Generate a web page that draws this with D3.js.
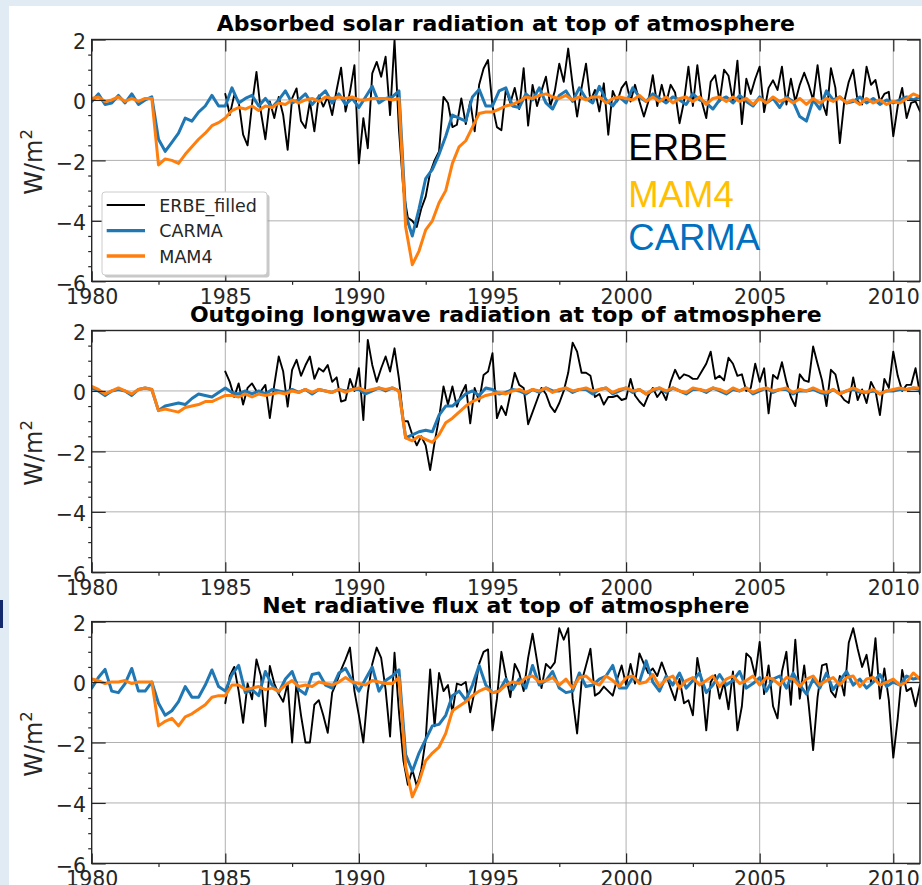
<!DOCTYPE html>
<html>
<head>
<meta charset="utf-8">
<script src="https://cdn.jsdelivr.net/npm/d3@7"></script>
<style>
  html, body { margin: 0; padding: 0; background: #fff; }
  svg { display: block; }
</style>
</head>
<body>
<svg id="fig" width="922" height="885"></svg>
<script>
// ---------------------------------------------------------------
// TOA radiation anomalies (W/m^2), ERBE observations vs. two models
// ERBE_filled: 2-month samples from 1985.0 ; models: quarterly from 1980.0
// ---------------------------------------------------------------
const erbeStart = 1985, erbeStep = 1 / 6;
const modelStart = 1980, modelStep = 0.25;

const panelTitles = [
  "Absorbed solar radiation at top of atmosphere",
  "Outgoing longwave radiation at top of atmosphere",
  "Net radiative flux at top of atmosphere"
];
const seriesNames = ["ERBE_filled", "CARMA", "MAM4"];
const yearTicks = [1980, 1985, 1990, 1995, 2000, 2005, 2010];
const yearMinorTicks = [1982.5, 1987.5, 1992.5, 1997.5, 2002.5, 2007.5];
const valueTicks = [2, 0, -2, -4, -6];
const valueMinorTicks = [1.5, 1, 0.5, -0.5, -1, -1.5, -2.5, -3, -3.5, -4.5, -5, -5.5];
const sideLabels = ["ERBE", "MAM4", "CARMA"];

// Absorbed solar radiation
const erbeSW = [
  0.2, -0.5, 0.16, -0.05, -1.15, -1.5,
  -0.15, 0.93, -0.4, -1.3, -0.05, -0.6,
  0.1, -0.5, -1.65, 0.05, 0.38, -0.7,
  -0.93, -0.05, -1.04, 0.15, -0.22, 0.1,
  -0.5, 0.33, 1.07, -0.38, 0.27, 1.15,
  -2.1, -0.6, -1.6, 0.88, 1.26, 0.77,
  1.43, -0.5, 1.98, -1.0, -3.0, -3.9,
  -4.0, -4.2, -3.6, -3.2, -2.4, -2.0,
  -1.7, 0.1, -0.1, -0.9, -0.82, 0.05,
  -0.8, -0.05, -1.04, 0.5, 1.04, 1.32,
  -0.2, -0.9, -1.0, 0.35, -0.1, 0.4,
  -0.3, 1.05, -0.85, 0.5, -0.2, 0.3,
  0.77, -0.2, 0.3, 1.2, 0.6, 1.7,
  0.5, -0.55, 0.4, 1.2, -0.05, 0.33,
  -0.38, 0.55, -1.15, 0.3, -0.05, 0.4,
  0.6, -0.05, 0.5, -0.05, -0.55, -0.05,
  0.82, -0.2, 0.5, -0.1, 0.5, 0.25,
  -0.77, -0.05, 1.1, -0.2, 1.15, -0.05,
  -0.6, 0.6, 0.82, -0.05, 1.0, 0.8,
  -0.05, 1.3, -0.8, 0.7, 0.2, 0.7,
  1.1, -0.4, 0.4, 0.65, 0.33, 1.1,
  -0.15, 0.7, -0.05, 0.5, 0.9, 0.5,
  0.0, 1.15, -0.05, -0.5, 1.05, 0.4,
  -1.43, -0.05, 0.6, 1.0, -0.05, -0.15,
  1.1, 0.5, 0.66, -0.05, 0.2, 0.27,
  -1.2, -0.2, 0.4, -0.6, -0.1, -0.05,
  -0.38
];
const carmaSW = [
  -0.05, 0.2, -0.15, -0.1, 0.15, -0.1, 0.2, -0.15, 0.0, 0.1,
  -1.3, -1.7, -1.4, -1.1, -0.6, -0.7, -0.4, -0.2, 0.15, -0.2,
  -0.2, 0.4, -0.1, 0.05, 0.15, -0.2, 0.05, -0.25, 0.0, 0.3,
  -0.1, 0.0, 0.2, -0.15, 0.1, 0.3, -0.1, 0.2, -0.15, 0.05,
  -0.25, 0.1, 0.45, -0.1, 0.05, 0.1, 0.3, -3.8, -4.5, -3.6,
  -2.6, -2.3, -1.8, -1.2, -0.5, -0.6, -0.7, 0.1, 0.35, -0.2,
  -0.2, 0.3, 0.4, -0.2, -0.25, 0.2, 0.0, 0.4, -0.1, -0.3,
  0.15, 0.3, -0.05, 0.4, 0.05, -0.1, 0.45, 0.0, -0.2, 0.1,
  -0.1, 0.4, 0.1, -0.05, 0.2, 0.05, -0.1, 0.1, 0.0, -0.15,
  0.2, 0.0, -0.1, -0.3, 0.0, 0.1, -0.1, 0.15, -0.05, -0.2,
  0.1, -0.1, 0.05, -0.25, 0.1, -0.05, -0.55, -0.7, 0.0, -0.3,
  0.3, 0.0, 0.1, -0.1, -0.05, 0.1, -0.1, 0.05, -0.15, 0.0,
  -0.1, 0.0, 0.1, 0.0, 0.1
];
const mam4SW = [
  0.05, 0.1, -0.05, 0.0, 0.1, -0.05, 0.05, -0.05, 0.05, 0.05,
  -2.15, -1.95, -2.0, -2.1, -1.8, -1.55, -1.3, -1.1, -0.85, -0.75,
  -0.6, -0.35, -0.25, -0.3, -0.2, -0.35, -0.2, -0.25, -0.1, -0.15,
  0.0, -0.1, 0.0, 0.05, -0.05, 0.1, 0.05, 0.1, 0.05, 0.1,
  0.0, 0.0, 0.05, 0.05, 0.05, 0.0, 0.05, -4.2, -5.45, -5.0,
  -4.3, -4.0, -3.4, -3.0, -2.1, -1.55, -1.35, -0.9, -0.45, -0.4,
  -0.4, -0.3, -0.2, -0.15, -0.05, 0.1, 0.05, 0.15, 0.2, 0.1,
  0.05, 0.15, 0.0, 0.1, 0.0, 0.1, 0.1, -0.1, 0.05, 0.1,
  0.05, 0.0, 0.15, -0.05, 0.1, -0.05, 0.1, -0.1, 0.05, 0.1,
  -0.05, 0.1, -0.15, 0.05, 0.1, -0.05, 0.1, -0.05, 0.05, -0.15,
  0.05, -0.1, 0.1, -0.05, 0.05, -0.1, 0.05, -0.15, 0.05, -0.1,
  0.05, -0.05, 0.1, -0.1, 0.0, -0.15, 0.05, -0.1, 0.0, -0.15,
  -0.05, -0.1, 0.05, 0.2, 0.1
];

// Outgoing longwave radiation
const erbeLW = [
  0.64, 0.3, -0.2, 0.25, -0.45, 0.1,
  0.25, 0.0, 0.0, 0.2, -0.9, 0.2,
  1.14, 0.64, -0.52, 0.7, 1.03, 0.5,
  0.85, 1.14, 0.4, 0.75, 0.64, 0.86,
  0.3, 0.45, -0.35, -0.3, 0.4, 0.0,
  0.75, -0.96, 1.69, 0.86, 0.3, 0.75,
  1.14, 0.64, 1.41, 0.4, -1.0, -1.0,
  -1.46, -1.8, -1.5, -1.8, -2.62, -1.7,
  -0.9, 0.15, -0.45, 0.15, -0.52, -0.1,
  0.2, -1.07, 0.1, -0.35, 0.53, 0.64,
  1.25, -0.9, -0.5, -0.8, -0.1, 0.6,
  0.2, 0.1, -1.1, -0.7, -0.3, 0.1,
  -0.1, -0.5, -0.7, -0.4, 0.0, 0.6,
  1.6, 1.3, 0.6, 0.6, 0.5, -0.2,
  -0.1, -0.45, -0.2, -0.2, -0.15, -0.3,
  -0.25, 0.4, -0.15, -0.35, -0.5, -0.15,
  0.1, -0.2, 0.0, -0.3, 0.3, 0.7,
  0.4, 0.55, 0.5, 0.4, 0.4, 0.65,
  0.9, 1.3, 0.4, 0.5, 0.35, 1.1,
  0.9, 0.5, 0.55, 0.0, 0.1, 0.9,
  0.3, 0.75, -0.74, 0.53, 0.4, 0.95,
  0.3, -0.2, -0.5, 0.55, 0.35, 0.3,
  1.47, 0.9, 0.35, -0.5, 0.7, 0.55,
  -0.1, -0.3, -0.4, 0.45, -0.3, 0.05,
  -0.4, 0.3, 0.0, -0.8, 0.4, 0.1,
  1.3, 0.5, 0.0, 0.2, 0.2, 0.75,
  -0.1
];
const carmaLW = [
  0.1, 0.0, -0.15, 0.0, 0.05, 0.0, -0.15, 0.05, 0.1, 0.05,
  -0.65, -0.5, -0.45, -0.4, -0.45, -0.25, -0.1, -0.15, -0.2, -0.05,
  0.1, -0.05, -0.1, 0.0, -0.1, 0.0, -0.1, 0.05, 0.0, -0.05,
  0.05, -0.05, 0.05, -0.1, 0.05, 0.0, -0.05, 0.05, 0.0, 0.05,
  0.05, -0.1, 0.0, 0.1, 0.0, 0.1, 0.0, -1.55, -1.45, -1.35,
  -1.3, -1.35, -0.8, -0.5, -0.5, -0.3, -0.1, 0.0, -0.15, 0.1,
  0.05, -0.1, -0.05, 0.05, 0.0, -0.1, 0.05, -0.05, 0.1, 0.0,
  0.0, 0.1, -0.05, 0.05, 0.05, -0.1, 0.05, 0.1, -0.1, 0.0,
  0.1, -0.05, 0.05, -0.1, 0.0, 0.1, -0.05, 0.1, 0.0, -0.1,
  0.05, 0.05, -0.05, 0.1, 0.0, -0.1, 0.05, 0.0, 0.1, -0.1,
  0.0, 0.1, -0.05, 0.05, 0.05, -0.1, 0.0, 0.0, 0.05, -0.05,
  -0.1, 0.05, -0.1, 0.0, 0.05, -0.05, -0.05, 0.0, -0.1, 0.0,
  0.0, 0.05, 0.05, 0.1, 0.05
];
const mam4LW = [
  0.15, 0.05, -0.1, 0.0, 0.1, 0.0, -0.1, 0.05, 0.1, 0.05,
  -0.65, -0.6, -0.65, -0.7, -0.55, -0.5, -0.45, -0.35, -0.35, -0.25,
  -0.15, -0.15, -0.2, -0.1, -0.2, -0.1, -0.15, -0.1, -0.05, -0.1,
  0.0, -0.05, 0.05, -0.05, 0.05, 0.0, -0.05, 0.05, -0.05, 0.05,
  0.1, 0.0, 0.05, 0.1, 0.05, 0.1, 0.0, -1.55, -1.65, -1.5,
  -1.6, -1.7, -1.45, -1.05, -0.9, -0.7, -0.5, -0.35, -0.25, -0.15,
  -0.1, -0.05, -0.1, 0.0, 0.05, -0.05, 0.05, 0.0, 0.1, -0.05,
  0.05, 0.1, 0.0, 0.05, 0.1, 0.0, 0.05, 0.1, -0.05, 0.05,
  0.1, 0.0, 0.05, -0.1, 0.05, 0.1, 0.0, 0.1, 0.0, -0.05,
  0.1, 0.05, 0.0, 0.1, 0.05, -0.05, 0.1, 0.0, 0.1, -0.05,
  0.05, 0.1, 0.0, 0.05, 0.1, -0.05, 0.05, 0.0, 0.1, 0.0,
  -0.05, 0.05, -0.1, 0.0, 0.1, 0.0, -0.05, 0.05, -0.1, 0.0,
  0.05, 0.1, 0.05, 0.1, 0.1
];

// Net radiative flux
const erbeNet = [
  -0.7, 0.2, 0.5, -0.3, -1.35, -0.05,
  -0.57, 0.75, 0.2, -1.46, 0.53, -0.05,
  -0.4, -0.65, -0.05, -2.0, 0.0, -1.1,
  -2.0, -2.0, -0.75, -0.6, -1.1, -1.68,
  -0.35, 0.0, 0.4, 0.75, 1.14, -0.3,
  -1.1, -2.0, -0.35, 0.6, 1.14, 0.8,
  -0.25, -1.8, 0.97, -1.0, -2.6, -3.4,
  -2.9, -3.45, -2.9, -1.9, 0.42, -1.46,
  0.3, -0.3, -0.1, -1.0, -0.05, -0.1,
  0.0, -1.0, -0.3, 0.6, 1.0, 1.08,
  -1.6, -0.55, 1.0, 0.2, -0.5, 0.6,
  0.3, -0.3, 0.8, 1.6, 0.7, -0.2,
  0.6, 0.45, 0.65, 1.78, 1.4, 1.78,
  -0.55, -1.7, 0.0, 0.55, 1.1, -0.45,
  -0.35, -0.15, -0.3, -0.45, 0.1, 0.55,
  -0.1, 0.6, -0.05, 0.95, 0.6, 0.3,
  0.45, 0.2, 0.65, 0.25, -0.2, -0.6,
  0.1, -0.7, -0.6, -1.1, 0.8, 0.0,
  -1.6, 0.0, 0.23, -0.55, 0.0, -0.9,
  0.35, -1.6, -0.8, 0.95, 0.8, 0.2,
  1.33, -0.4, 0.55, -0.8, -1.2, 0.35,
  1.0, -0.75, 1.4, -0.55, 0.55, -0.75,
  -2.25, -0.5, 0.55, 0.6, -0.3, -0.5,
  0.2, -0.45, 1.3, 1.78, 1.1, 0.5,
  0.9, 0.0, 1.45, -0.55, 0.45, -0.6,
  -2.5, -1.2, 0.4, -0.3, -0.2, -0.8,
  -0.1
];
const carmaNet = [
  -0.2, 0.15, 0.42, -0.3, -0.35, -0.05, 0.45, -0.3, -0.3, 0.0,
  -0.7, -1.1, -0.95, -0.65, -0.15, -0.5, -0.5, -0.1, 0.4, -0.15,
  -0.3, 0.25, 0.55, -0.35, -0.25, -0.45, 0.35, -0.1, -0.35, 0.1,
  0.35, -0.25, -0.4, 0.25, 0.3, -0.1, -0.2, 0.3, 0.45, 0.05,
  -0.3, 0.1, 0.5, -0.3, 0.05, 0.2, 0.4, -2.4, -2.95, -2.35,
  -1.9, -1.45, -1.4, -1.1, -0.45, -0.3, -0.6, -0.1, 0.55, -0.1,
  -0.35, -0.3, 0.1, -0.25, 0.1, -0.2, 0.55, -0.1, 0.05, 0.35,
  -0.2, -0.35, -0.3, 0.3, -0.15, -0.1, 0.1, 0.2, 0.55, -0.2,
  -0.2, 0.15, 0.0, 0.7, 0.0, -0.3, 0.2, -0.1, 0.3, -0.2,
  0.05, 0.3, -0.35, -0.1, 0.25, -0.1, 0.05, 0.35, -0.2, -0.05,
  0.15, -0.3, 0.1, 0.2, -0.2, 0.3, -0.1, -0.4, 0.1, -0.2,
  0.3, -0.25, 0.05, 0.35, -0.1, 0.1, -0.2, 0.0, 0.25, -0.15,
  0.0, -0.1, 0.2, 0.1, 0.15
];
const mam4Net = [
  0.1, 0.05, -0.05, 0.0, 0.0, 0.05, -0.05, 0.0, 0.0, 0.0,
  -1.45, -1.3, -1.2, -1.45, -1.15, -1.05, -0.9, -0.75, -0.5, -0.45,
  -0.45, -0.1, -0.1, -0.25, -0.2, -0.15, -0.25, -0.2, -0.3, -0.1,
  0.05, -0.15, -0.1, -0.15, 0.0, -0.05, -0.1, 0.0, 0.15, 0.0,
  -0.05, -0.1, 0.05, 0.0, -0.05, -0.05, 0.15, -2.8, -3.8, -3.3,
  -2.6, -2.35, -2.15, -1.7, -0.95, -0.8, -0.65, -0.45, -0.3, -0.2,
  -0.35, -0.3, -0.1, 0.0, -0.05, 0.15, 0.2, 0.0, 0.05, 0.15,
  -0.1, 0.1, -0.2, 0.15, 0.2, 0.0, -0.1, 0.2, 0.05, -0.15,
  0.15, 0.2, -0.05, 0.0, 0.25, -0.15, 0.1, 0.2, -0.2, 0.05,
  0.15, -0.1, 0.05, 0.2, -0.15, 0.1, 0.2, -0.05, 0.05, 0.2,
  -0.1, 0.15, 0.1, -0.1, 0.15, 0.1, -0.15, 0.1, 0.2, -0.1,
  0.05, 0.15, -0.1, 0.15, 0.2, -0.15, 0.1, 0.15, -0.1, 0.0,
  0.1, -0.1, 0.0, 0.3, 0.1
];

const panelData = [
  { erbe: erbeSW,  carma: carmaSW,  mam4: mam4SW },
  { erbe: erbeLW,  carma: carmaLW,  mam4: mam4LW },
  { erbe: erbeNet, carma: carmaNet, mam4: mam4Net }
];

// ---------------------------------------------------------------
// layout and styling
// ---------------------------------------------------------------
const W = 922, H = 885;
const plotLeft = 91.7, plotRight = 920;
const panelTops = [39.5, 330.5, 621.6];
const panelHeight = 241.8;
const colors = { erbe: "#000000", carma: "#1f77b4", mam4: "#ff7f0e" };
const widths = { erbe: 1.9, carma: 3, mam4: 3 };
const inkColor = "#262626";
const sans = "'DejaVu Sans', Verdana, sans-serif";

const svg = d3.select("#fig");

// page backdrop
svg.append("rect").attr("width", W).attr("height", H).attr("fill", "#e1ebf3");
svg.append("rect").attr("x", 9).attr("y", 6).attr("width", W - 9).attr("height", H - 6).attr("fill", "#ffffff");
svg.append("rect").attr("x", 0).attr("y", 600).attr("width", 3).attr("height", 28).attr("fill", "#14296b");

const x = d3.scaleLinear().domain([1980, 2011]).range([plotLeft, plotRight]);

function toSeries(values, start, step) {
  return values.map((v, i) => ({ t: start + i * step, v }));
}

function styleAxis(sel, showText) {
  sel.select(".domain").remove();
  sel.selectAll(".tick line").attr("stroke", inkColor).attr("stroke-width", 1.2);
  if (showText) {
    sel.selectAll(".tick text")
      .attr("fill", inkColor)
      .style("font-family", sans)
      .style("font-size", "20.5px");
  } else {
    sel.selectAll(".tick text").remove();
  }
}

panelData.forEach((pd, k) => {
  const top = panelTops[k];
  const bottom = top + panelHeight;
  const y = d3.scaleLinear().domain([-6, 2]).range([bottom, top]);
  const g = svg.append("g").attr("class", "panel");

  const clipId = "clip" + k;
  svg.append("clipPath").attr("id", clipId)
    .append("rect").attr("x", plotLeft).attr("y", top)
    .attr("width", plotRight - plotLeft).attr("height", panelHeight);

  // grid
  const grid = g.append("g").attr("stroke", "#b0b0b0").attr("stroke-width", 1);
  grid.selectAll("line.gx").data(yearTicks.filter(d => d > 1980)).join("line")
    .attr("class", "gx")
    .attr("x1", d => x(d)).attr("x2", d => x(d))
    .attr("y1", top).attr("y2", bottom);
  grid.selectAll("line.gy").data(valueTicks.filter(d => d < 2 && d > -6)).join("line")
    .attr("class", "gy")
    .attr("x1", plotLeft).attr("x2", plotRight)
    .attr("y1", d => y(d)).attr("y2", d => y(d));

  // series
  const line = d3.line().x(d => x(d.t)).y(d => y(d.v)).curve(d3.curveLinear);
  const lines = g.append("g").attr("clip-path", `url(#${clipId})`);
  const series = [
    { key: "erbe",  pts: toSeries(pd.erbe,  erbeStart,  erbeStep) },
    { key: "carma", pts: toSeries(pd.carma, modelStart, modelStep) },
    { key: "mam4",  pts: toSeries(pd.mam4,  modelStart, modelStep) }
  ];
  series.forEach(s => {
    lines.append("path")
      .attr("d", line(s.pts))
      .attr("fill", "none")
      .attr("stroke", colors[s.key])
      .attr("stroke-width", widths[s.key])
      .attr("stroke-linejoin", "round")
      .attr("stroke-linecap", "round");
  });

  // axes: major ticks point inward, minor ticks point outward
  const fmt = d3.format("d");
  g.append("g").attr("transform", `translate(0,${bottom})`)
    .call(d3.axisBottom(x).tickValues(yearTicks).tickFormat(fmt)
      .tickSizeInner(-10).tickSizeOuter(0).tickPadding(7.7))
    .call(s => styleAxis(s, true));
  g.append("g").attr("transform", `translate(0,${bottom})`)
    .call(d3.axisBottom(x).tickValues(yearMinorTicks).tickSizeInner(3.5).tickSizeOuter(0))
    .call(s => styleAxis(s, false));
  g.append("g").attr("transform", `translate(0,${top})`)
    .call(d3.axisTop(x).tickValues(yearTicks).tickSizeInner(-12).tickSizeOuter(0))
    .call(s => styleAxis(s, false));
  g.append("g").attr("transform", `translate(${plotLeft},0)`)
    .call(d3.axisLeft(y).tickValues(valueTicks).tickFormat(fmt)
      .tickSizeInner(-14).tickSizeOuter(0).tickPadding(5.7))
    .call(s => styleAxis(s, true))
    .call(s => s.selectAll(".tick text").attr("dy", "0.43em"));
  g.append("g").attr("transform", `translate(${plotLeft},0)`)
    .call(d3.axisLeft(y).tickValues(valueMinorTicks).tickSizeInner(3.5).tickSizeOuter(0))
    .call(s => styleAxis(s, false));
  g.append("g").attr("transform", `translate(${plotRight},0)`)
    .call(d3.axisRight(y).tickValues(valueTicks).tickSizeInner(-13).tickSizeOuter(0))
    .call(s => styleAxis(s, false));

  // frame
  g.append("rect")
    .attr("x", plotLeft).attr("y", top)
    .attr("width", plotRight - plotLeft).attr("height", panelHeight)
    .attr("fill", "none").attr("stroke", inkColor).attr("stroke-width", 1.4);

  // title
  g.append("text")
    .attr("x", (plotLeft + plotRight) / 2).attr("y", top - 9)
    .attr("text-anchor", "middle")
    .attr("fill", "#000")
    .style("font-family", sans).style("font-weight", "bold").style("font-size", "22px")
    .text(panelTitles[k]);

  // y label
  const yl = g.append("text")
    .attr("transform", `translate(41.5,${(top + bottom) / 2 + 1.5}) rotate(-90)`)
    .attr("text-anchor", "middle")
    .attr("fill", inkColor)
    .style("font-family", sans).style("font-size", "24px");
  yl.append("tspan").text("W/m");
  yl.append("tspan").attr("dy", -10).style("font-size", "16.5px").text("2");
});

// legend in the first panel
const legend = svg.append("g");
legend.append("rect")
  .attr("x", 104.5).attr("y", 194.5).attr("width", 165).attr("height", 83).attr("rx", 3)
  .attr("fill", "#9a9a9a").attr("opacity", 0.55);
legend.append("rect")
  .attr("x", 102).attr("y", 192).attr("width", 165).attr("height", 83).attr("rx", 3)
  .attr("fill", "#ffffff").attr("stroke", "#cccccc").attr("stroke-width", 1);
const legendKeys = ["erbe", "carma", "mam4"];
const legendRows = [205, 230.7, 256];
legendKeys.forEach((key, i) => {
  legend.append("line")
    .attr("x1", 106.7).attr("x2", 145).attr("y1", legendRows[i]).attr("y2", legendRows[i])
    .attr("stroke", colors[key]).attr("stroke-width", key === "erbe" ? 2 : 3.3);
  legend.append("text")
    .attr("x", 159.3).attr("y", legendRows[i] + 6.5)
    .attr("fill", inkColor)
    .style("font-family", sans).style("font-size", "17.5px")
    .text(seriesNames[i]);
});

// coloured model labels to the right of the legend
const sideColors = ["#000000", "#ffc000", "#0070c0"];
const sideBaselines = [160, 206.5, 250];
sideLabels.forEach((lab, i) => {
  svg.append("text")
    .attr("x", 628.3).attr("y", sideBaselines[i])
    .attr("fill", sideColors[i])
    .style("font-family", "'Liberation Sans', Arial, sans-serif")
    .style("font-size", "36.5px")
    .text(lab);
});
</script>
</body>
</html>
